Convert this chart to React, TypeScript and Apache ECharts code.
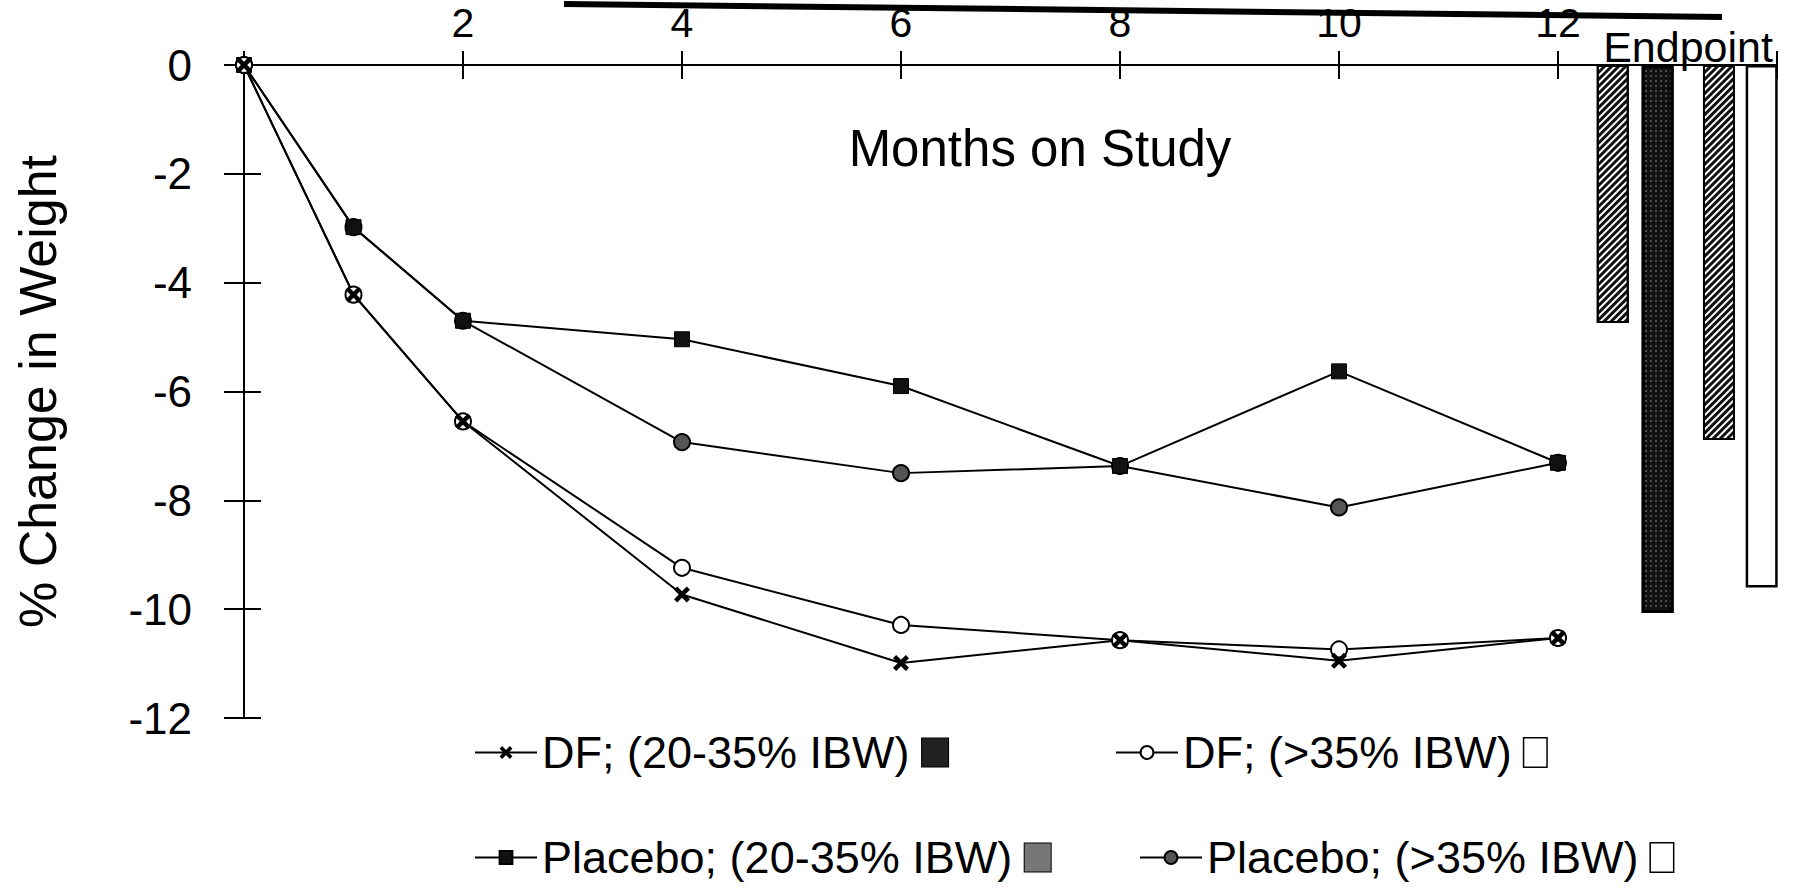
import React, { useEffect, useRef } from 'react';
import * as echarts from 'echarts';

// ---- data ----
const months = [0, 1, 2, 4, 6, 8, 10, 12];
const dfModerate = [0, -4.22, -6.55, -9.73, -10.99, -10.57, -10.95, -10.53];
const dfSevere = [0, -4.22, -6.55, -9.24, -10.29, -10.57, -10.74, -10.53];
const placeboModerate = [0, -2.98, -4.7, -5.04, -5.9, -7.37, -5.63, -7.31];
const placeboSevere = [0, -2.98, -4.7, -6.93, -7.5, -7.37, -8.13, -7.31];

const endpointPositions = [12.5, 12.91, 13.47, 13.86];
const endpointValues = [-4.74, -10.07, -6.89, -9.6];

const nameDfModerate = 'DF; (20-35% IBW)';
const nameDfSevere = 'DF; (>35% IBW)';
const namePlaceboModerate = 'Placebo; (20-35% IBW)';
const namePlaceboSevere = 'Placebo; (>35% IBW)';

const xAxisTitle = 'Months on Study';
const yAxisTitle = '% Change in Weight';
const endpointLabel = 'Endpoint';

const FONT = '"Liberation Sans", Arial, Helvetica, sans-serif';

const hatchDecal = {
  symbol: 'rect',
  symbolSize: 1,
  dashArrayX: [1, 0],
  dashArrayY: [3, 2],
  rotation: -Math.PI / 4,
  color: '#111',
};
const dotDecal = {
  symbol: 'rect',
  symbolSize: 0.6,
  dashArrayX: [[2, 3]],
  dashArrayY: [2, 3],
  color: '#cfcfcf',
};

const barStyles = [
  { color: '#ffffff', decal: hatchDecal, borderColor: '#000', borderWidth: 2 },
  { color: '#111111', decal: dotDecal, borderColor: '#000', borderWidth: 3 },
  { color: '#ffffff', decal: hatchDecal, borderColor: '#000', borderWidth: 2 },
  { color: '#ffffff', borderColor: '#000', borderWidth: 2.5 },
];

const swatchFor: Record<string, string> = {
  [nameDfModerate]: 'dark',
  [nameDfSevere]: 'white',
  [namePlaceboModerate]: 'hatch',
  [namePlaceboSevere]: 'white',
};

function pairs(values: number[]) {
  return months.map((m, i) => [m, values[i]]);
}

export default function App() {
  const ref = useRef<HTMLDivElement>(null);

  useEffect(() => {
    if (!ref.current) return;
    const chart = echarts.init(ref.current, undefined, { renderer: 'svg' });

    const lineCommon = {
      type: 'line',
      xAxisIndex: 0,
      yAxisIndex: 0,
      lineStyle: { color: '#000', width: 2 },
      symbolSize: 16,
      z: 3,
    };

    const legendCommon = {
      orient: 'horizontal',
      itemWidth: 62,
      itemHeight: 16,
      selectedMode: false,
      textStyle: {
        fontSize: 45,
        fontFamily: FONT,
        color: '#000',
        rich: {
          dark: { width: 26, height: 28, backgroundColor: '#222', borderColor: '#000', borderWidth: 1 },
          white: { width: 22, height: 28, backgroundColor: '#fff', borderColor: '#000', borderWidth: 1.5 },
          hatch: { width: 26, height: 28, backgroundColor: '#777', borderColor: '#000', borderWidth: 1 },
        },
      },
      formatter: (name: string) => `${name} {${swatchFor[name]}|}`,
    };

    const option: any = {
      animation: false,
      backgroundColor: '#fff',
      grid: { left: 244, top: 65, width: 1533, height: 653 },
      xAxis: [
        {
          type: 'value',
          position: 'top',
          min: 0,
          max: 14,
          interval: 2,
          axisLine: { show: true, lineStyle: { color: '#000', width: 2 } },
          axisTick: { show: true, inside: false, length: 14, lineStyle: { color: '#000', width: 2 } },
          axisLabel: {
            margin: 22,
            fontSize: 41,
            fontFamily: FONT,
            color: '#000',
            formatter: (v: number) => (v === 0 || v === 14 ? '' : String(v)),
          },
          splitLine: { show: false },
        },
        {
          type: 'value',
          position: 'top',
          min: 0,
          max: 14,
          interval: 2,
          axisLine: { show: false },
          axisTick: { show: true, inside: true, length: 14, lineStyle: { color: '#000', width: 2 } },
          axisLabel: { show: false },
          splitLine: { show: false },
        },
      ],
      yAxis: [
        {
          type: 'value',
          position: 'left',
          min: -12,
          max: 0,
          interval: 2,
          name: yAxisTitle,
          nameLocation: 'middle',
          nameRotate: 90,
          nameGap: 180,
          nameTextStyle: { fontSize: 52, fontFamily: FONT, color: '#000' },
          axisLine: { show: true, lineStyle: { color: '#000', width: 2 } },
          axisTick: { show: true, inside: false, length: 20, lineStyle: { color: '#000', width: 2 } },
          axisLabel: { margin: 52, fontSize: 44, fontFamily: FONT, color: '#000' },
          splitLine: { show: false },
        },
        {
          type: 'value',
          position: 'left',
          min: -12,
          max: 0,
          interval: 2,
          axisLine: { show: false },
          axisTick: { show: true, inside: true, length: 17, lineStyle: { color: '#000', width: 2 } },
          axisLabel: { show: false },
          splitLine: { show: false },
        },
      ],
      legend: [
        { ...legendCommon, data: [nameDfModerate], left: 469, top: 725 },
        { ...legendCommon, data: [nameDfSevere], left: 1110, top: 725 },
        { ...legendCommon, data: [namePlaceboModerate], left: 469, top: 830 },
        { ...legendCommon, data: [namePlaceboSevere], left: 1134, top: 830 },
      ],
      graphic: [
        {
          type: 'text',
          x: 1040,
          y: 148,
          style: { text: xAxisTitle, fontSize: 51, fontFamily: FONT, fill: '#000', align: 'center', verticalAlign: 'middle' },
        },
        {
          type: 'text',
          x: 1688,
          y: 47,
          style: { text: endpointLabel, fontSize: 43, fontFamily: FONT, fill: '#000', align: 'center', verticalAlign: 'middle' },
        },
        {
          type: 'line',
          shape: { x1: 564, y1: 4, x2: 1722, y2: 17 },
          style: { stroke: '#000', lineWidth: 6 },
        },
      ],
      series: [
        {
          name: endpointLabel,
          type: 'bar',
          xAxisIndex: 0,
          yAxisIndex: 0,
          barWidth: 32,
          z: 2,
          data: endpointPositions.map((x, i) => ({
            value: [x, endpointValues[i]],
            itemStyle: barStyles[i],
          })),
        },
        {
          ...lineCommon,
          name: namePlaceboSevere,
          symbol: 'circle',
          itemStyle: { color: '#555', borderColor: '#000', borderWidth: 2 },
          data: pairs(placeboSevere),
        },
        {
          ...lineCommon,
          name: namePlaceboModerate,
          symbol: 'rect',
          symbolSize: 15,
          itemStyle: { color: '#111', borderColor: '#000', borderWidth: 1 },
          data: pairs(placeboModerate),
        },
        {
          ...lineCommon,
          name: nameDfSevere,
          symbol: 'circle',
          itemStyle: { color: '#fff', borderColor: '#000', borderWidth: 2 },
          data: pairs(dfSevere),
        },
        {
          ...lineCommon,
          name: nameDfModerate,
          symbol: 'path://M2,0 L5,3 L8,0 L10,2 L7,5 L10,8 L8,10 L5,7 L2,10 L0,8 L3,5 L0,2 Z',
          symbolSize: 16,
          itemStyle: { color: '#000' },
          data: pairs(dfModerate),
        },
      ],
    };

    chart.setOption(option);
    return () => chart.dispose();
  }, []);

  return (
    <div
      ref={ref}
      style={{ position: 'fixed', left: 0, top: 0, width: 1794, height: 893, background: '#fff' }}
    />
  );
}
